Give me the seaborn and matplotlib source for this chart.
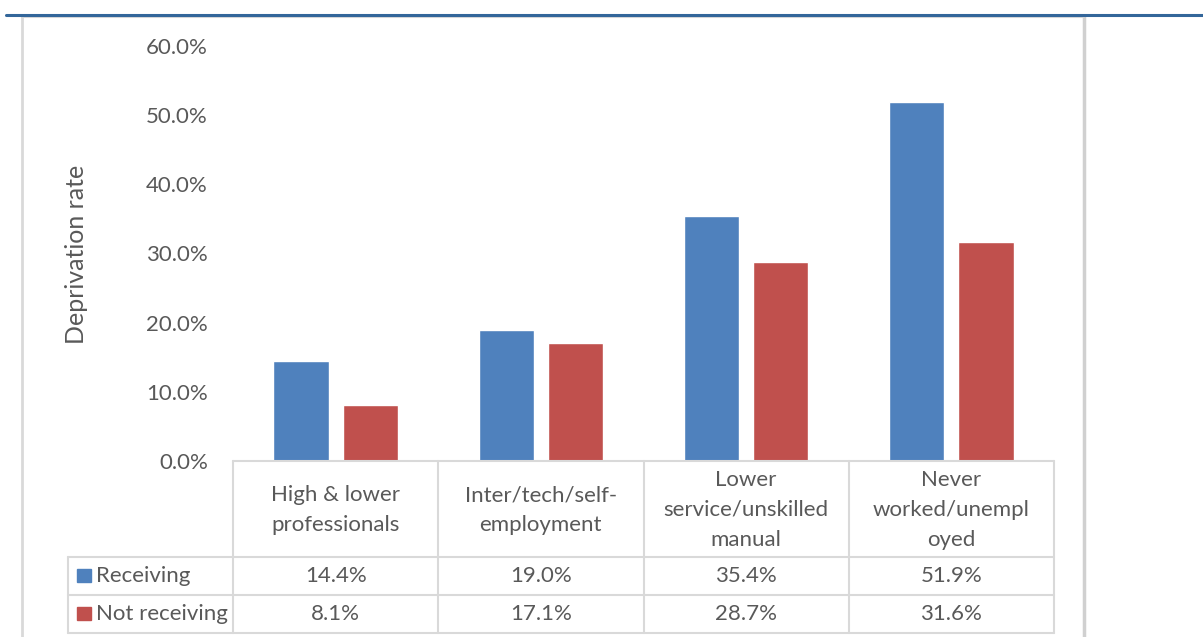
import numpy as np
import pandas as pd
import matplotlib
matplotlib.use('Agg')
import matplotlib.pyplot as plt
import seaborn as sns
from matplotlib.lines import Line2D
from matplotlib.patches import Rectangle

# data
categories = ['High & lower\nprofessionals', 'Inter/tech/self-\nemployment',
              'Lower\nservice/unskilled\nmanual', 'Never\nworked/unempl\noyed']
series_names = ['Receiving', 'Not receiving']
receiving = [14.4, 19.0, 35.4, 51.9]
not_receiving = [8.1, 17.1, 28.7, 31.6]
colors = ['#4F81BD', '#C0504D']
yticks = [0, 10, 20, 30, 40, 50, 60]

df = pd.DataFrame({
    'category': categories * 2,
    'series': [series_names[0]] * 4 + [series_names[1]] * 4,
    'value': [v / 100 for v in receiving + not_receiving],
})

sns.set_theme(style='white')
plt.rcParams['font.family'] = ['Lato', 'DejaVu Sans']
text_col = '#595959'
grid_col = '#D9D9D9'
fs = 16

W, H = 1203, 637
fig = plt.figure(figsize=(W / 100, H / 100), dpi=100)


def fx(x):
    return x / W


def fy(y):
    return 1 - y / H


# plot area: x from 233 to 1054 px, 0% at y=461, 60% at y=46
ax = fig.add_axes([fx(233), fy(461), fx(1054) - fx(233), fy(46) - fy(461)])
sns.barplot(data=df, x='category', y='value', hue='series', palette=colors,
            width=0.673, gap=0.2, legend=False, ax=ax, saturation=1)
ax.set_xlim(-0.5, 3.5)
ax.set_ylim(0, 0.6)
ax.set_yticks([t / 100 for t in yticks])
ax.set_yticklabels([f'{t:.1f}%' for t in yticks], color=text_col, fontsize=fs)
ax.tick_params(axis='y', length=0, pad=18)
ax.set_xticks([])
ax.set_xlabel('')
ax.set_ylabel('')
for s in ax.spines.values():
    s.set_visible(False)
ax.patch.set_alpha(0)

fig.text(fx(76), fy(254), 'Deprivation rate', rotation=90, ha='center', va='center',
         color=text_col, fontsize=18)

# chart frame and top rule
fig.add_artist(Line2D([fx(22), fx(22)], [fy(16), fy(640)], color=grid_col, lw=2))
fig.add_artist(Line2D([fx(1084), fx(1084)], [fy(16), fy(640)], color='#D0D0D0', lw=2.5))
fig.add_artist(Line2D([fx(22), fx(1084)], [fy(17), fy(17)], color=grid_col, lw=1.5))
fig.add_artist(Line2D([fx(6), fx(1203)], [fy(15), fy(15)], color='#33669A', lw=2.2))

# data table
col_edges = [233 + 205.25 * k for k in range(5)]
row_top, row_head, row_mid, row_bot = 461, 557, 595, 633
lw = 1.5
for x in col_edges:
    fig.add_artist(Line2D([fx(x), fx(x)], [fy(row_top), fy(row_bot)], color=grid_col, lw=lw))
fig.add_artist(Line2D([fx(68), fx(68)], [fy(row_head), fy(row_bot)], color=grid_col, lw=lw))
fig.add_artist(Line2D([fx(233), fx(1054)], [fy(row_top), fy(row_top)], color=grid_col, lw=lw))
for y in (row_head, row_mid, row_bot):
    fig.add_artist(Line2D([fx(68), fx(1054)], [fy(y), fy(y)], color=grid_col, lw=lw))

for i, cat in enumerate(categories):
    cx = (col_edges[i] + col_edges[i + 1]) / 2
    fig.text(fx(cx), fy((row_top + row_head) / 2 + 1), cat, ha='center', va='center',
             color=text_col, fontsize=fs, linespacing=1.6)

rows = [receiving, not_receiving]
for r, (name, vals) in enumerate(zip(series_names, rows)):
    top = row_head if r == 0 else row_mid
    bot = row_mid if r == 0 else row_bot
    cy = (top + bot) / 2
    fig.add_artist(Rectangle((fx(77), fy(cy + 6)), fx(14), fy(0) - fy(13),
                             color=colors[r], transform=fig.transFigure))
    fig.text(fx(96), fy(cy), name, ha='left', va='center', color=text_col, fontsize=fs)
    for i, v in enumerate(vals):
        cx = (col_edges[i] + col_edges[i + 1]) / 2
        fig.text(fx(cx), fy(cy), f'{v:.1f}%', ha='center', va='center',
                 color=text_col, fontsize=fs)

fig.savefig('out.png', dpi=100)
